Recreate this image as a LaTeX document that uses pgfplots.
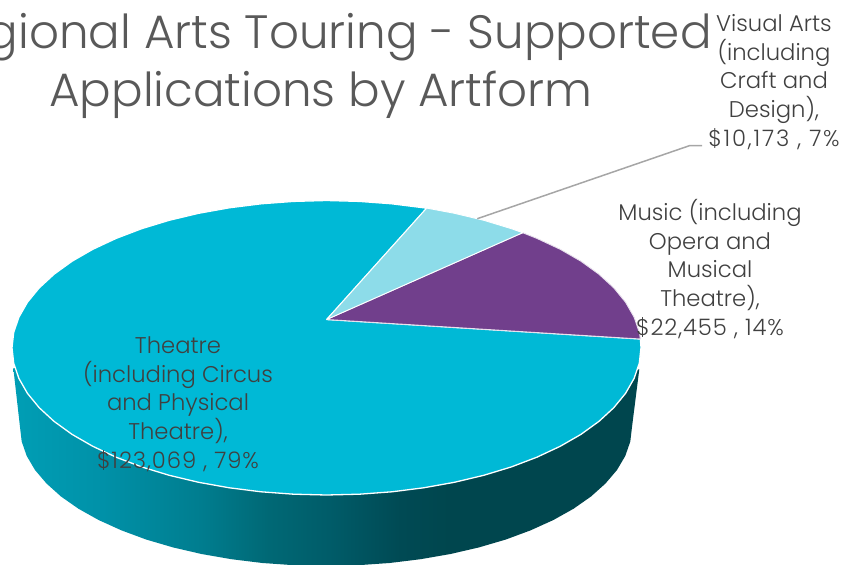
\documentclass[border=0pt]{standalone}
\usepackage{fontspec}
\setmainfont{Poppins}[UprightFont=* Light]
\usepackage{pgfplots}
\pgfplotsset{compat=1.18}

\definecolor{theatre}{HTML}{00B9D6}
\definecolor{visual}{HTML}{8DDCE9}
\definecolor{music}{HTML}{713F8C}
\definecolor{titlegrey}{HTML}{595959}
\definecolor{labelgrey}{HTML}{404040}
\definecolor{leader}{HTML}{A6A6A6}

% side wall of the pie: the path box sits between 25bp and 75bp
\pgfdeclarehorizontalshading{sidewall}{100bp}{
  rgb(0bp)=(0,.62,.71);
  rgb(25bp)=(0,.62,.71);
  rgb(32bp)=(0,.57,.66);
  rgb(40bp)=(0,.49,.56);
  rgb(45.3bp)=(0,.41,.46);
  rgb(50.3bp)=(0,.36,.41);
  rgb(55.9bp)=(0,.29,.33);
  rgb(59.9bp)=(0,.275,.305);
  rgb(100bp)=(0,.275,.305)}

\newcommand{\wide}[1]{\addfontfeature{LetterSpace=#1}}

\begin{document}
\begin{tikzpicture}
\path[use as bounding box] (0,0) rectangle (847pt,565pt);
\begin{axis}[
    at={(0,0)}, anchor=south west,
    scale only axis,
    width=847pt, height=565pt,
    xmin=0, xmax=847,
    ymin=0, ymax=565,
    y dir=reverse,
    axis lines=none,
]

% side wall
\addplot[draw=none, shade, shading=sidewall] coordinates {
    (13.3,368) (20,427) (21.7,441.5) (26.7,455.9) (35,470) (46.5,483.5)
    (61,496.5) (78.4,508.7) (98.6,520) (121.3,530.3) (146.1,539.5) (173,547.4)
    (201.5,554) (231.4,559.2) (262.4,563) (294,565.2) (326,566) (358,565.2)
    (389.6,563) (420.6,559.2) (450.5,554) (479,547.4) (505.9,539.5) (530.7,530.3)
    (553.4,520) (573.6,508.7) (591,496.5) (605.5,483.5) (617,470) (625.3,455.9)
    (630.3,441.5) (632,427) (639.3,369.3) (326,400)
} -- cycle;

% Theatre
\addplot[fill=theatre, draw=white, line width=1.3pt, line join=round] coordinates {
    (326.7,319.5) (426.7,208.1) (423.7,207.8) (391.9,203.8) (359.4,201.4)
    (326.5,200.5) (293.6,201.4) (261.1,203.8) (229.3,207.8) (198.6,213.3)
    (169.2,220.3) (141.6,228.7) (116.1,238.4) (92.8,249.3) (72.1,261.2)
    (54.1,274.2) (39.2,287.9) (27.4,302.3) (18.9,317.2) (13.7,332.4)
    (12,347.75) (13.7,363.2) (18.9,378.4) (27.4,393.3) (39.2,407.7)
    (54.1,421.4) (72.1,434.4) (92.8,446.3) (116.1,457.2) (141.6,466.9)
    (169.2,475.3) (198.6,482.3) (229.3,487.8) (261.1,491.8) (293.6,494.2)
    (326.5,495) (359.4,494.2) (391.9,491.8) (423.7,487.8) (454.4,482.3)
    (483.8,475.3) (511.4,466.9) (536.9,457.2) (560.2,446.3) (580.9,434.4)
    (598.9,421.4) (613.8,407.7) (625.6,393.3) (634.1,378.4) (639.3,363.2)
    (641,347.75) (640.4,339)
} -- cycle;

% Music
\addplot[fill=music, draw=white!85!music, line width=.9pt, line join=round] coordinates {
    (326.7,319.5) (640.4,339) (639.3,332.4) (634.1,317.2) (625.6,302.3)
    (613.8,287.9) (598.9,274.2) (580.9,261.2) (560.2,249.3) (536.9,238.4)
    (522.7,232.7)
} -- cycle;

% Visual Arts
\addplot[fill=visual, draw=white, line width=.9pt, line join=round] coordinates {
    (326.7,319.5) (522.7,232.7) (511.4,228.7) (483.8,220.3) (454.4,213.3)
    (426.7,208.1)
} -- cycle;

% leader line
\addplot[leader, line width=1.5pt] coordinates {
    (477.3,218.7) (690,145.5) (702,145.5)
};

\node[titlegrey, align=center, font=\fontsize{46.8}{58}\selectfont, anchor=center]
    at (axis cs:321,66) {Regional Arts Touring - Supported\\Applications by Artform};

\node[labelgrey, align=center, font=\fontsize{22.7}{28.7}\selectfont, anchor=center]
    at (axis cs:178,404) {Theatre\\(including Circus\\and Physical\\Theatre),\\{\wide{4}\$123,069 , 79\%}};

\node[labelgrey, align=center, font=\fontsize{22.7}{28.7}\selectfont, anchor=center]
    at (axis cs:710,269) {Music (including\\Opera and\\Musical\\Theatre),\\{\wide{4}\$22,455 , 14\%}};

\node[labelgrey, align=center, font=\fontsize{22.7}{28.7}\selectfont, anchor=center]
    at (axis cs:774,82) {Visual Arts\\(including\\Craft and\\Design),\\{\wide{8}\$10,173 , 7\%}};

\end{axis}
\end{tikzpicture}
\end{document}
